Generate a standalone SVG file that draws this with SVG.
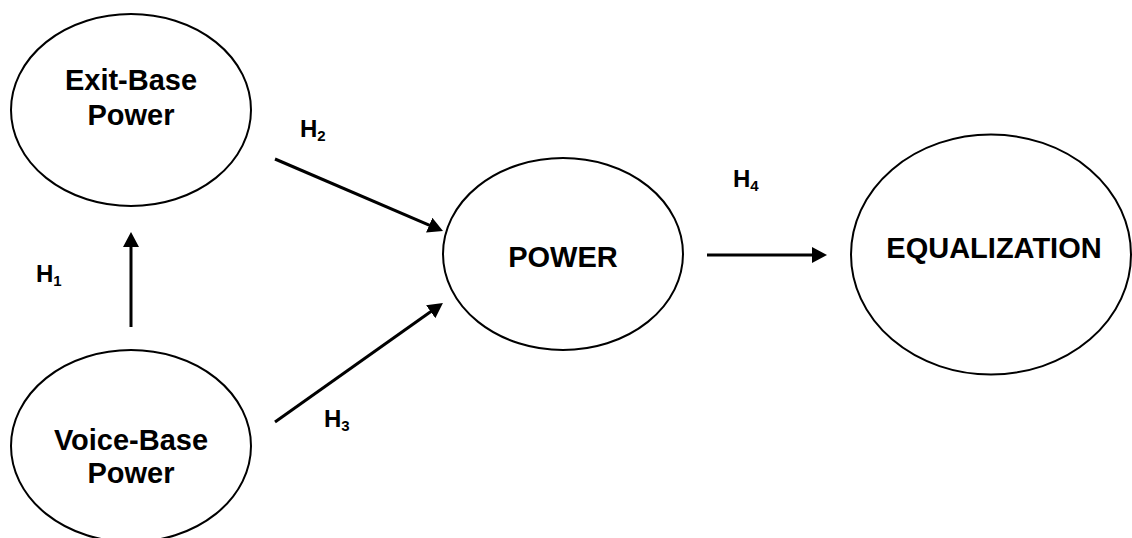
<svg xmlns="http://www.w3.org/2000/svg" width="1132" height="538" viewBox="0 0 1132 538">
<style>
.node{fill:#fff;stroke:#000;stroke-width:2}
.lbl{font-family:"Liberation Sans",Arial,sans-serif;font-weight:bold;font-size:29px;fill:#000;text-anchor:middle}
.h{font-family:"Liberation Sans",Arial,sans-serif;font-weight:bold;font-size:24px;fill:#000}
.sub{font-size:15px}
.conn{stroke:#000;stroke-width:3;fill:none;marker-end:url(#ah)}
</style>
<defs>
<marker id="ah" markerUnits="userSpaceOnUse" markerWidth="15" markerHeight="16" refX="5" refY="8" orient="auto">
<path d="M0,0 L15,8 L0,16 z" fill="#000"/>
</marker>
</defs>
<rect width="1132" height="538" fill="#fff"/>
<g id="exit-base">
<ellipse class="node" cx="131" cy="110" rx="120" ry="96"/>
<text class="lbl" x="131" y="90">Exit-Base</text>
<text class="lbl" x="131" y="125">Power</text>
</g>
<g id="voice-base">
<ellipse class="node" cx="131" cy="446" rx="120" ry="96"/>
<text class="lbl" x="131" y="450">Voice-Base</text>
<text class="lbl" x="131" y="483">Power</text>
</g>
<g id="power">
<ellipse class="node" cx="563" cy="254" rx="120" ry="96"/>
<text class="lbl" x="563" y="267">POWER</text>
</g>
<g id="equalization">
<ellipse class="node" cx="991" cy="254.5" rx="140" ry="120"/>
<text class="lbl" x="994" y="258">EQUALIZATION</text>
</g>
<g id="connectors">
<line class="conn" x1="131" y1="327" x2="131" y2="242"/>
<line class="conn" x1="275" y1="159" x2="433.8" y2="227.1"/>
<line class="conn" x1="275" y1="422" x2="434.8" y2="308.8"/>
<line class="conn" x1="707" y1="255" x2="817" y2="255"/>
<text class="h" x="36" y="282">H<tspan class="sub" dy="4">1</tspan></text>
<text class="h" x="300" y="137">H<tspan class="sub" dy="4">2</tspan></text>
<text class="h" x="324" y="427">H<tspan class="sub" dy="4">3</tspan></text>
<text class="h" x="733" y="187">H<tspan class="sub" dy="4">4</tspan></text>
</g>
</svg>
